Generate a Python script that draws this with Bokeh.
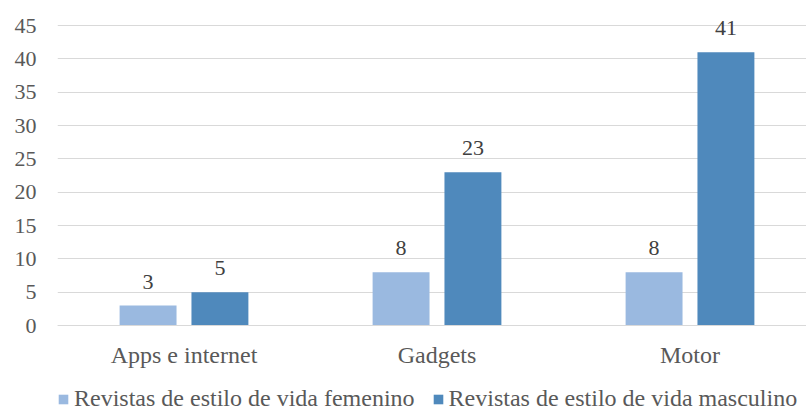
from bokeh.plotting import figure
from bokeh.models import Range1d, FixedTicker, Legend, LegendItem, ColumnDataSource
from bokeh.embed import file_html
from bokeh.resources import INLINE

categories = ["Apps e internet", "Gadgets", "Motor"]
series_names = ["Revistas de estilo de vida femenino", "Revistas de estilo de vida masculino"]
femenino = [3, 8, 8]
masculino = [5, 23, 41]
y_ticks = [0, 5, 10, 15, 20, 25, 30, 35, 40, 45]

colors = ["#9AB9E0", "#4F89BC"]
FONT = "Liberation Serif"
TXT = "#595959"

PX = 300 / 45.0
p = figure(width=806, height=412, output_backend="svg", toolbar_location=None,
           x_range=Range1d(0, 749 / 253), y_range=Range1d(-87 / PX, 45 + 10 / PX),
           min_border_left=57, min_border_right=0, min_border_top=15, min_border_bottom=0)
p.outline_line_color = None
p.background_fill_color = "white"
p.border_fill_color = "white"

offset = 0.142
bw = 0.225
centers = [i + 0.5 for i in range(len(categories))]

renderers = []
for vals, off, col in [(femenino, -offset, colors[0]), (masculino, offset, colors[1])]:
    xs = [c + off for c in centers]
    src = ColumnDataSource(dict(x=xs, top=vals, label=[str(v) for v in vals]))
    r = p.vbar(x="x", top="top", width=bw, bottom=0, source=src, fill_color=col,
               line_color=None)
    renderers.append(r)
    p.text(x="x", y="top", text="label", source=src, text_align="center",
           text_baseline="alphabetic", y_offset=-24, text_font=FONT, text_font_size="22px",
           text_color="#404040")

# axes
p.xaxis.fixed_location = 0
p.xaxis.ticker = FixedTicker(ticks=centers)
p.xaxis.major_label_overrides = {c: cat for c, cat in zip(centers, categories)}
p.xaxis.major_tick_line_color = None
p.xaxis.minor_tick_line_color = None
p.xaxis.axis_line_color = "#D9D9D9"
p.xaxis.major_label_standoff = 10
p.xaxis.major_label_text_font = FONT
p.xaxis.major_label_text_font_size = "24px"
p.xaxis.major_label_text_color = TXT

p.yaxis.ticker = FixedTicker(ticks=y_ticks)
p.yaxis.axis_line_color = None
p.yaxis.major_tick_line_color = None
p.yaxis.minor_tick_line_color = None
p.yaxis.major_label_standoff = 15
p.yaxis.major_label_text_font = FONT
p.yaxis.major_label_text_font_size = "22px"
p.yaxis.major_label_text_color = TXT

p.xgrid.grid_line_color = None
p.ygrid.ticker = FixedTicker(ticks=y_ticks)
p.ygrid.grid_line_color = "#D9D9D9"
p.ygrid.grid_line_width = 1

legend = Legend(items=[LegendItem(label=series_names[0], renderers=[renderers[0]]),
                       LegendItem(label=series_names[1], renderers=[renderers[1]])],
                orientation="horizontal", location=(0, 0),
                label_text_font=FONT, label_text_font_size="24px", label_text_color=TXT,
                glyph_width=12, glyph_height=12, label_standoff=5, spacing=17,
                border_line_color=None, background_fill_alpha=0,
                padding=0, margin=0)
p.add_layout(legend, "center")

open("out.html", "w").write(file_html(p, INLINE))
